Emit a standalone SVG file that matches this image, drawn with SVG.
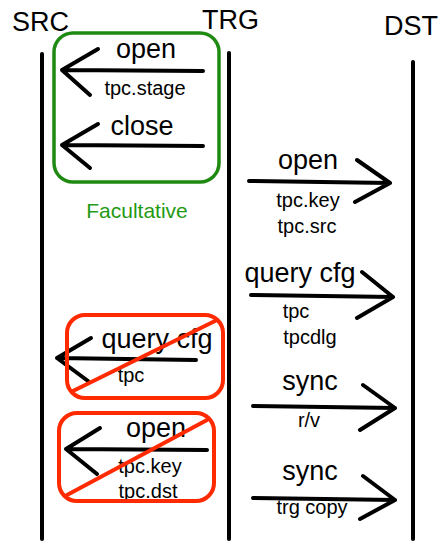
<svg xmlns="http://www.w3.org/2000/svg" width="445" height="545" viewBox="0 0 445 545">
<style>
.hdr{font-family:"Liberation Sans",Arial,sans-serif;font-size:27px;fill:#000}
.lbl{font-family:"Liberation Sans",Arial,sans-serif;font-size:27px;fill:#000;text-anchor:middle}
.sub{font-family:"Liberation Sans",Arial,sans-serif;font-size:20px;fill:#000;text-anchor:middle}
.life{stroke:#000;stroke-width:4;stroke-linecap:round;fill:none}
.arr{stroke:#000;stroke-width:4;stroke-linecap:round;stroke-linejoin:round;fill:none}
.gbox{fill:none;stroke:#1f8a12;stroke-width:3.5}
.rbox{fill:none;stroke:#ff2a00;stroke-width:4}
.cross{stroke:#ff2a00;stroke-width:4;stroke-linecap:round}
</style>
<rect width="445" height="545" fill="#fff"/>
<g id="SRC"><text class="hdr" x="12" y="31">SRC</text><line class="life" x1="42" y1="54" x2="42" y2="539"/></g>
<g id="TRG"><text class="hdr" x="202" y="29">TRG</text><line class="life" x1="229" y1="53" x2="229" y2="539"/></g>
<g id="DST"><text class="hdr" x="384" y="35">DST</text><line class="life" x1="413" y1="62" x2="413" y2="539"/></g>
<g id="facultative">
<rect class="gbox" x="54" y="33" width="165" height="149" rx="19"/>
<text x="137" y="218" font-family="'Liberation Sans',Arial,sans-serif" font-size="21" fill="#1f9a12" text-anchor="middle">Facultative</text>
</g>
<g id="connectors">
<path class="arr" d="M203 71 L62 70 M98 49 L62 70 L90 95"/>
<path class="arr" d="M203 146 L62 145 M98 124 L62 145 L90 168"/>
<path class="arr" d="M249 181 L390 183 M357 160 L390 183 L355 202"/>
<path class="arr" d="M251 295 L393 297 M362 272 L393 297 L357 318"/>
<path class="arr" d="M253 406 L395 408 M363 385 L395 408 L360 430"/>
<path class="arr" d="M253 498 L395 500 M363 476 L395 500 L360 519"/>
<path class="arr" d="M196 360 L57 358 M91 338 L57 358 L88 381"/>
<path class="arr" d="M207 450 L66 449 M100 428 L66 449 L97 474"/>
</g>
<g id="lbl-open1"><text class="lbl" x="146" y="58">open</text><text class="sub" x="145" y="95">tpc.stage</text></g>
<g id="lbl-close"><text class="lbl" x="142" y="135">close</text></g>
<g id="lbl-open2"><text class="lbl" x="308" y="169">open</text><text class="sub" x="308" y="207">tpc.key</text><text class="sub" x="307" y="233">tpc.src</text></g>
<g id="lbl-query2"><text class="lbl" x="300" y="282">query cfg</text><text class="sub" x="296" y="318">tpc</text><text class="sub" x="310" y="344">tpcdlg</text></g>
<g id="lbl-sync1"><text class="lbl" x="310" y="390">sync</text><text class="sub" x="309" y="427">r/v</text></g>
<g id="lbl-sync2"><text class="lbl" x="310" y="480">sync</text><text class="sub" x="312" y="514">trg copy</text></g>
<g id="crossed-query">
<text class="lbl" x="157" y="348">query cfg</text><text class="sub" x="131" y="382">tpc</text>
<rect class="rbox" x="67" y="315" width="156" height="83" rx="18"/>
<line class="cross" x1="73" y1="391" x2="217" y2="320"/>
</g>
<g id="crossed-open">
<text class="lbl" x="156" y="437">open</text><text class="sub" x="150" y="473">tpc.key</text><text class="sub" x="148" y="498">tpc.dst</text>
<rect class="rbox" x="59" y="413" width="155" height="88" rx="18"/>
<line class="cross" x1="67" y1="495" x2="207" y2="420"/>
</g>
</svg>
